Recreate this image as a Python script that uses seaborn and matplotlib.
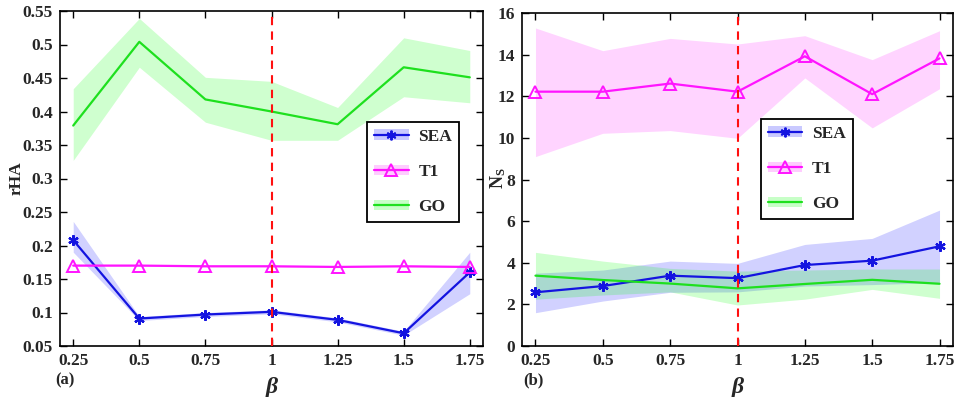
import numpy as np
import pandas as pd
import matplotlib
matplotlib.use('Agg')
import matplotlib.pyplot as plt
import seaborn as sns
from matplotlib.patches import Patch
from matplotlib.lines import Line2D
from matplotlib.legend_handler import HandlerTuple

# ---------------- data ----------------
beta = [0.25, 0.5, 0.75, 1.0, 1.25, 1.5, 1.75]
xtick_labels = ['0.25', '0.5', '0.75', '1', '1.25', '1.5', '1.75']
methods = ['SEA', 'T1', 'GO']

# panel (a): rHA
rha_sea = [0.208, 0.091, 0.097, 0.101, 0.089, 0.069, 0.160]
rha_sea_lo = [0.190, 0.088, 0.094, 0.098, 0.086, 0.066, 0.128]
rha_sea_hi = [0.236, 0.094, 0.100, 0.104, 0.092, 0.072, 0.190]
rha_t1 = [0.170, 0.170, 0.169, 0.169, 0.168, 0.169, 0.168]
rha_t1_lo = [0.169, 0.169, 0.168, 0.168, 0.167, 0.168, 0.167]
rha_t1_hi = [0.171, 0.171, 0.170, 0.170, 0.169, 0.170, 0.169]
rha_go = [0.379, 0.504, 0.418, 0.400, 0.381, 0.466, 0.451]
rha_go_lo = [0.327, 0.466, 0.384, 0.357, 0.357, 0.422, 0.413]
rha_go_hi = [0.434, 0.539, 0.451, 0.445, 0.406, 0.510, 0.491]
rha_yticks = [0.05, 0.1, 0.15, 0.2, 0.25, 0.3, 0.35, 0.4, 0.45, 0.5, 0.55]
rha_ytick_labels = ['0.05', '0.1', '0.15', '0.2', '0.25', '0.3', '0.35',
                    '0.4', '0.45', '0.5', '0.55']

# panel (b): Ns
ns_sea = [2.58, 2.88, 3.38, 3.26, 3.89, 4.10, 4.79]
ns_sea_lo = [1.60, 2.16, 2.58, 2.60, 2.88, 2.95, 3.05]
ns_sea_hi = [3.50, 3.65, 4.08, 3.97, 4.88, 5.17, 6.53]
ns_t1 = [12.22, 12.22, 12.61, 12.22, 13.92, 12.10, 13.82]
ns_t1_lo = [9.10, 10.22, 10.35, 9.98, 12.88, 10.48, 12.36]
ns_t1_hi = [15.28, 14.19, 14.78, 14.51, 14.91, 13.76, 15.15]
ns_go = [3.38, 3.17, 3.00, 2.77, 2.98, 3.18, 2.99]
ns_go_lo = [2.25, 2.45, 2.60, 1.97, 2.25, 2.72, 2.29]
ns_go_hi = [4.50, 4.08, 3.73, 3.60, 3.65, 3.70, 3.70]
ns_yticks = [0, 2, 4, 6, 8, 10, 12, 14, 16]

# ---------------- style ----------------
sns.set_style('ticks')
plt.rcParams['font.family'] = ['Liberation Serif', 'DejaVu Serif']
plt.rcParams['font.weight'] = 'bold'
plt.rcParams['mathtext.fontset'] = 'custom'
plt.rcParams['mathtext.rm'] = 'Liberation Serif'
plt.rcParams['mathtext.bf'] = 'Liberation Serif:bold'
plt.rcParams['mathtext.it'] = 'Liberation Serif:italic'

line_col = {'SEA': '#1414e0', 'T1': '#ff14ff', 'GO': '#1ee01e'}
band_col = {'SEA': '#0000ff', 'T1': '#ff00ff', 'GO': '#00ff00'}
band_alpha = {'SEA': 0.18, 'T1': 0.17, 'GO': 0.19}

fig = plt.figure(figsize=(9.55, 3.97), dpi=100)
axA = fig.add_axes([60 / 955, 51 / 397, 423 / 955, 335 / 397])
axB = fig.add_axes([522 / 955, 51 / 397, 431 / 955, 333 / 397])


def draw(ax, series, yticks, yticklabels, ylim):
    # bands
    for name, (y, lo, hi) in series.items():
        ax.fill_between(beta, lo, hi, color=band_col[name],
                        alpha=band_alpha[name], linewidth=0, zorder=1)
    # lines
    for name, (y, lo, hi) in series.items():
        kw = dict(x=beta, y=y, ax=ax, color=line_col[name], linewidth=1.6,
                  legend=False, zorder=3)
        if name == 'SEA':
            kw.update(marker=(6, 2, 0), markersize=7.5, mec=line_col[name],
                      mew=1.6)
        elif name == 'T1':
            kw.update(marker='^', markersize=9, mfc='none',
                      mec=line_col[name], mew=1.4)
        sns.lineplot(**kw)
    ax.axvline(1.0, color='#ff1010', linestyle=(0, (4, 3)), linewidth=1.5,
               zorder=4)
    ax.set_xlim(0.2, 1.8)
    ax.set_ylim(*ylim)
    ax.set_xticks(beta)
    ax.set_xticklabels(xtick_labels)
    ax.set_yticks(yticks)
    ax.set_yticklabels(yticklabels)
    ax.tick_params(direction='in', top=True, right=True, length=5,
                   width=1.0, labelsize=12.5, color='black', pad=5)
    for lab in ax.get_xticklabels() + ax.get_yticklabels():
        lab.set_fontweight('bold')
    for sp in ax.spines.values():
        sp.set_linewidth(1.2)
        sp.set_color('black')
    ax.set_xlabel('')
    ax.set_ylabel('')


draw(axA, {'SEA': (rha_sea, rha_sea_lo, rha_sea_hi),
           'T1': (rha_t1, rha_t1_lo, rha_t1_hi),
           'GO': (rha_go, rha_go_lo, rha_go_hi)},
     rha_yticks, rha_ytick_labels, (0.05, 0.55))
draw(axB, {'SEA': (ns_sea, ns_sea_lo, ns_sea_hi),
           'T1': (ns_t1, ns_t1_lo, ns_t1_hi),
           'GO': (ns_go, ns_go_lo, ns_go_hi)},
     ns_yticks, [str(v) for v in ns_yticks], (0, 16))


def legend_handles():
    hs = []
    for name in methods:
        p = Patch(facecolor=band_col[name], alpha=band_alpha[name] + 0.03,
                  edgecolor='none')
        if name == 'SEA':
            l = Line2D([], [], color=line_col[name], lw=1.6, marker=(6, 2, 0),
                       ms=7, mec=line_col[name], mew=1.4)
        elif name == 'T1':
            l = Line2D([], [], color=line_col[name], lw=1.6, marker='^',
                       ms=8.5, mfc='none', mec=line_col[name], mew=1.4)
        else:
            l = Line2D([], [], color=line_col[name], lw=1.6)
        hs.append((p, l))
    return hs


for ax, anchor in ((axA, (0.726, 0.669)), (axB, (0.554, 0.682))):
    leg = ax.legend(legend_handles(), methods, loc='upper left',
                    bbox_to_anchor=anchor, borderaxespad=0,
                    handler_map={tuple: HandlerTuple(ndivide=1, pad=0)},
                    frameon=True, fancybox=False, framealpha=1,
                    edgecolor='black', handlelength=2.0, handleheight=0.55,
                    labelspacing=1.1, borderpad=0.4, handletextpad=0.55,
                    prop={'family': 'Liberation Serif', 'weight': 'bold',
                          'size': 12.5})
    leg.get_frame().set_linewidth(1.3)
    leg.set_zorder(10)

# axis labels
fig.text(17 / 955, 1 - 178 / 397, 'rHA', rotation=90, ha='center',
         va='center', fontsize=12.5, fontweight='bold')
fig.text(498 / 955, 1 - 178 / 397, r'$\mathbf{N_S}$', rotation=90,
         ha='center', va='center', fontsize=13)
fig.text(272 / 955, 1 - 387 / 397, 'β', ha='center', va='center',
         fontsize=17, fontstyle='italic', fontweight='bold')
fig.text(738 / 955, 1 - 387 / 397, 'β', ha='center', va='center',
         fontsize=17, fontstyle='italic', fontweight='bold')
fig.text(55 / 955, 1 - 380 / 397, '(a)', ha='left', va='center',
         fontsize=12, fontweight='bold')
fig.text(523 / 955, 1 - 380 / 397, '(b)', ha='left', va='center',
         fontsize=12, fontweight='bold')

fig.savefig('out.png', dpi=100)
